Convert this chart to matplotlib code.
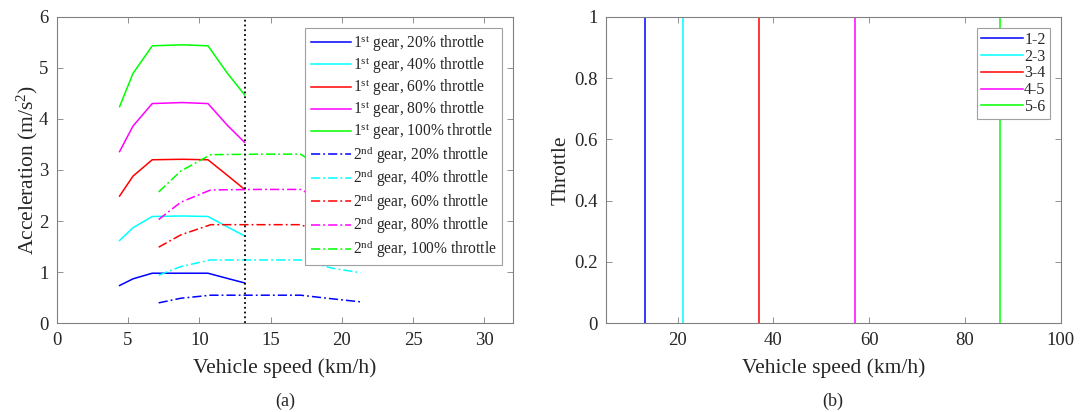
import numpy as np
import matplotlib
matplotlib.use("Agg")
from matplotlib import pyplot as plt

plt.rcParams['font.family'] = ['Liberation Serif', 'DejaVu Serif']
plt.rcParams['mathtext.fontset'] = 'custom'
plt.rcParams['mathtext.rm'] = 'Liberation Serif'
plt.rcParams['mathtext.it'] = 'Liberation Serif:italic'
plt.rcParams['text.color'] = '#262626'
plt.rcParams['axes.labelcolor'] = '#262626'
plt.rcParams['xtick.color'] = '#262626'
plt.rcParams['ytick.color'] = '#262626'

# (a) acceleration vs vehicle speed
throttle = [20, 40, 60, 80, 100]
colors = ['#0000ff', '#00ffff', '#ff0000', '#ff00ff', '#00ff00']

speed_1st = [4.41, 5.35, 6.7, 8.8, 10.61, 11.95, 13.18]
acc_1st = [
    [0.74, 0.87, 0.98, 0.98, 0.98, 0.88, 0.79],
    [1.62, 1.87, 2.09, 2.10, 2.09, 1.89, 1.71],
    [2.49, 2.88, 3.20, 3.21, 3.20, 2.90, 2.62],
    [3.36, 3.86, 4.30, 4.32, 4.30, 3.88, 3.54],
    [4.24, 4.89, 5.43, 5.45, 5.43, 4.90, 4.47],
]

speed_2nd = [7.15, 8.7, 10.8, 14.2, 17.1, 19.3, 21.3]
acc_2nd = [
    [0.40, 0.49, 0.55, 0.55, 0.55, 0.48, 0.42],
    [0.94, 1.11, 1.24, 1.24, 1.24, 1.08, 0.99],
    [1.49, 1.73, 1.93, 1.93, 1.93, 1.70, 1.54],
    [2.03, 2.37, 2.61, 2.62, 2.62, 2.31, 2.09],
    [2.57, 2.98, 3.30, 3.31, 3.31, 2.92, 2.65],
]

shift_1_2 = 13.2

# (b) shift lines
shift_names = ['1-2', '2-3', '3-4', '4-5', '5-6']
shift_speeds = [13.2, 21.2, 37.0, 57.0, 87.3]

W, H = 1081, 412
fig = plt.figure(figsize=(W / 100, H / 100), dpi=100)
ax1 = fig.add_axes([56.7 / W, 1 - 323.3 / H, (513 - 56.7) / W, (323.3 - 16.7) / H])
ax2 = fig.add_axes([605.7 / W, 1 - 323.3 / H, (1060.7 - 605.7) / W, (323.3 - 16.7) / H])

dashdot = (0, (6, 2, 1.2, 2))
for i, c in enumerate(colors):
    ax1.plot(speed_1st, acc_1st[i], color=c, lw=1.1,
             label='1$^{\\mathrm{st}}$ gear, %d%% throttle' % throttle[i])
for i, c in enumerate(colors):
    ax1.plot(speed_2nd, acc_2nd[i], color=c, lw=1.1, linestyle=dashdot,
             label='2$^{\\mathrm{nd}}$ gear, %d%% throttle' % throttle[i])
ax1.axvline(shift_1_2, color='k', linestyle=':', lw=1.3)

ax1.set_xlim(0, 32)
ax1.set_ylim(0, 6)
ax1.set_xticks(np.arange(0, 31, 5))
ax1.set_yticks(np.arange(0, 7, 1))
ax1.set_xlabel('Vehicle speed (km/h)', fontsize=15.5, labelpad=7)
ax1.set_ylabel('Acceleration (m/s$^2$)', fontsize=15.5, labelpad=-1)
leg1 = ax1.legend(loc='upper right', fontsize=11.2, handlelength=2.6, handletextpad=0.1,
                  labelspacing=0.1, borderaxespad=0.7, borderpad=0.35,
                  fancybox=False, framealpha=1, edgecolor='#a0a0a0')
leg1.get_frame().set_linewidth(0.8)

for name, s, c in zip(shift_names, shift_speeds, colors):
    ax2.plot([s, s], [0, 1], color=c, lw=1.1, label=name)
ax2.set_xlim(5, 100)
ax2.set_ylim(0, 1)
ax2.set_xticks(np.arange(20, 101, 20))
ax2.set_yticks(np.arange(0, 1.01, 0.2))
ax2.set_yticklabels(['0', '0.2', '0.4', '0.6', '0.8', '1'])
ax2.set_xlabel('Vehicle speed (km/h)', fontsize=15.5, labelpad=7)
ax2.set_ylabel('Throttle', fontsize=15.5, labelpad=2)
leg2 = ax2.legend(loc='upper right', fontsize=11.5, handlelength=2.6, handletextpad=0.1,
                  labelspacing=0.05, borderaxespad=0.7, borderpad=0.25,
                  fancybox=False, framealpha=1, edgecolor='#a0a0a0')
leg2.get_frame().set_linewidth(0.8)

for ax in (ax1, ax2):
    ax.tick_params(direction='in', length=4, width=0.6, labelsize=13.5, pad=6,
                   top=True, right=True, color='#808080')
    for sp in ax.spines.values():
        sp.set_color('#808080')
        sp.set_linewidth(0.8)

fig.text(284.9 / W, 1 - 401 / H, '(a)', ha='center', va='center', fontsize=13)
fig.text(833.2 / W, 1 - 401 / H, '(b)', ha='center', va='center', fontsize=13)

fig.savefig('out.png', dpi=100)
